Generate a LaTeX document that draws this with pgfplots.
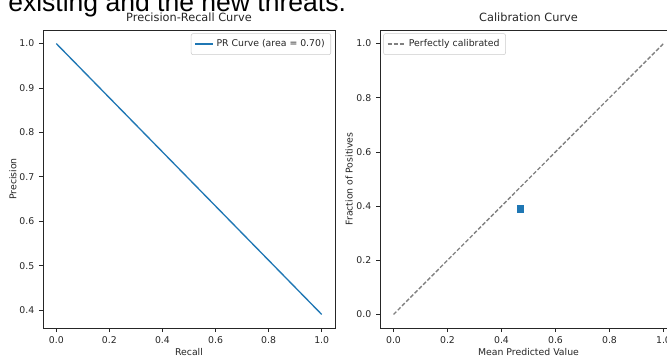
\documentclass[border=0pt]{standalone}
\usepackage{fontspec}
\setmainfont{DejaVu Sans}
\newfontfamily\arialfont{Liberation Sans}
\usepackage{pgfplots}
\pgfplotsset{compat=1.18}
\definecolor{C0}{HTML}{1F77B4}
\definecolor{txt}{HTML}{262626}
\pgfplotsset{mpl/.style={
  scale only axis,
  axis line style={txt, line width=0.6pt},
  tick style={txt, line width=0.6pt},
  tick align=outside,
  major tick length=3pt,
  xtick pos=bottom, ytick pos=left,
  /pgf/number format/assume math mode=true,
  /pgf/number format/fixed, /pgf/number format/fixed zerofill, /pgf/number format/precision=1,
  tick label style={font=\fontsize{7}{8}\selectfont, text=txt},
  label style={font=\fontsize{7}{8}\selectfont, text=txt},
  title style={font=\fontsize{8.5}{10}\selectfont, text=txt, at={(0.5,1)}, anchor=base, yshift=0.75pt},
  legend style={font=\fontsize{7}{8}\selectfont, draw=black!20, rounded corners=1.5pt, fill=white,
    inner xsep=2.5pt, inner ysep=2.5pt, text=txt},
  legend cell align=left,
  legend image code/.code={\draw[##1] (0pt,0pt) -- (13.5pt,0pt);},
}}
\begin{document}
\begin{tikzpicture}
\useasboundingbox (0,0) rectangle (500.25pt,268.5pt);
\clip (0,0) rectangle (500.25pt,268.5pt);
\fill[white] (0,0) rectangle (500.25pt,268.5pt);
\node[anchor=base west, inner sep=0pt, font=\arialfont\fontsize{19.9}{22}\selectfont, text=black] at (6pt,260pt) {existing and the new threats.};
\begin{axis}[mpl,
  at={(32.25pt,22.5pt)}, anchor=south west,
  width=219pt, height=223.5pt,
  xmin=-0.05, xmax=1.05, ymin=0.3595, ymax=1.0305,
  xtick={0,0.2,0.4,0.6,0.8,1.0},
  ytick={0.4,0.5,0.6,0.7,0.8,0.9,1.0},
  title={Precision-Recall Curve},
  xlabel={Recall}, ylabel={Precision},
  xlabel style={at={(axis description cs:0.5,-0.082)}, anchor=center},
  ylabel style={at={(axis description cs:-0.103,0.5)}, anchor=center},
  legend style={at={(1,1)}, anchor=north east, xshift=-3pt, yshift=-2.5pt},
]
\addplot[C0, line width=1pt] coordinates {(0,1.0) (1.0,0.39)};
\addlegendentry{PR Curve (area = 0.70)}
\end{axis}
\begin{axis}[mpl,
  at={(285pt,22.5pt)}, anchor=south west,
  width=222.75pt, height=223.5pt,
  xmin=-0.05, xmax=1.05, ymin=-0.05, ymax=1.05,
  xtick={0,0.2,0.4,0.6,0.8,1.0},
  ytick={0,0.2,0.4,0.6,0.8,1.0},
  title={Calibration Curve},
  xlabel={Mean Predicted Value}, ylabel={Fraction of Positives},
  xlabel style={at={(axis description cs:0.5,-0.082)}, anchor=center},
  ylabel style={at={(axis description cs:-0.104,0.5)}, anchor=center},
  legend style={at={(0,1)}, anchor=north west, xshift=2.5pt, yshift=-2.5pt},
]
\addplot[gray, line width=1pt, dash pattern=on 3pt off 1.5pt] coordinates {(0,0) (1,1)};
\addlegendentry{Perfectly calibrated}
\addplot[only marks, mark=square*, mark size=2.3pt, C0, forget plot] coordinates {(0.47,0.39)};
\end{axis}
\end{tikzpicture}
\end{document}
